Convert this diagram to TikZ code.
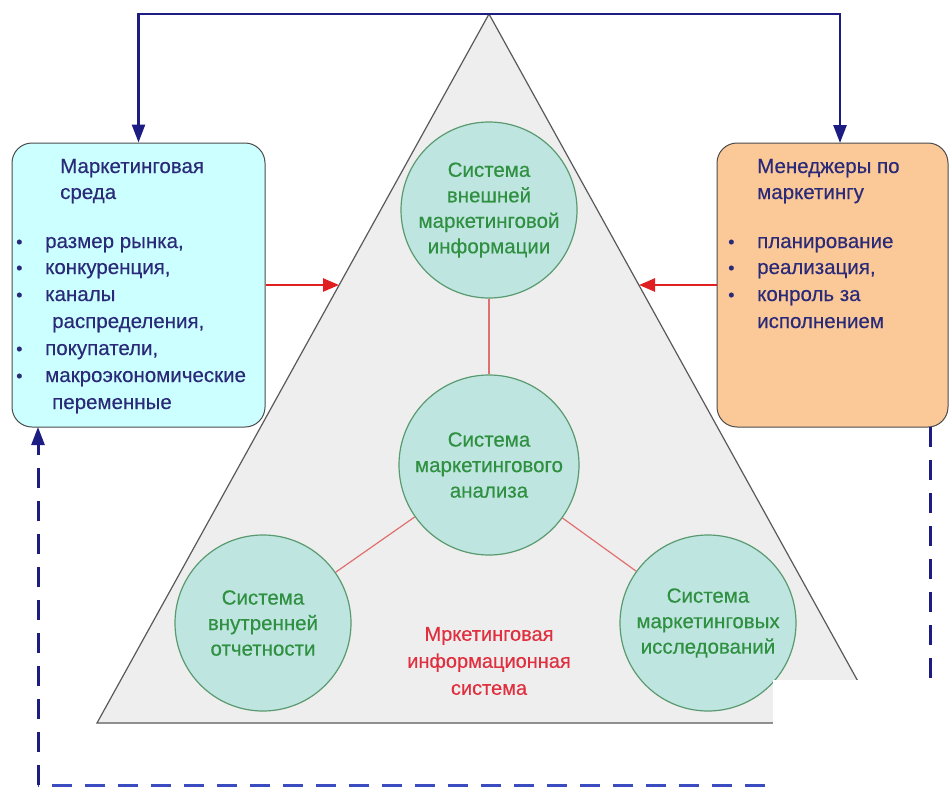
\documentclass[tikz,border=0pt]{standalone}
\usepackage{fontspec}
\setmainfont{Liberation Sans}[FakeBold=0.35]
\usetikzlibrary{arrows.meta}
\definecolor{navy}{HTML}{1C1C82}
\definecolor{dashblue}{HTML}{3A4CC0}
\definecolor{boxtext}{HTML}{2A2A78}
\definecolor{lboxfill}{HTML}{CCFFFF}
\definecolor{rboxfill}{HTML}{FBC898}
\definecolor{trifill}{HTML}{EEEEEE}
\definecolor{circfill}{HTML}{BFE5E0}
\definecolor{circline}{HTML}{5A9A70}
\definecolor{circtext}{HTML}{2E9040}
\definecolor{redline}{HTML}{E07070}
\definecolor{redarrow}{HTML}{E02020}
\definecolor{redtext}{HTML}{E03040}
\begin{document}
\begin{tikzpicture}[x=1pt,y=-1pt,
  boxst/.style={draw=black!70, line width=1pt, rounded corners=20pt, minimum width=253pt, minimum height=284pt, inner sep=0pt},
  boxtxt/.style={anchor=base west, inner sep=0pt, text=boxtext, font=\fontsize{20.5}{22}\selectfont},
  bullet/.style={anchor=base west, inner sep=0pt, text=boxtext, font=\fontsize{18}{20}\selectfont},
  circ/.style={circle, draw=circline, line width=1.2pt, fill=circfill, minimum size=176pt, inner sep=0pt, align=center, text=circtext, font=\fontsize{20.5}{25.5}\selectfont},
  navyline/.style={draw=navy, line width=2.6pt},
  navyarr/.style={navyline, -{Triangle[length=18pt,width=13pt]}},
  redarr/.style={draw=redarrow, line width=2.6pt, -{Triangle[length=16pt,width=13pt]}},
  dashline/.style={line width=3pt, dash pattern=on 20pt off 13pt},
  conn/.style={draw=redline, line width=1.2pt}
]
\useasboundingbox (0,0) rectangle (952,787);
\fill[white] (0,0) rectangle (952,787);

% triangle
\draw[fill=trifill, draw=black!65, line width=1.2pt] (489,14) -- (97,723) -- (881,723) -- cycle;

% boxes
\node[boxst, fill=lboxfill] (lbox) at (138.5,285) {};
\node[boxst, fill=rboxfill, minimum width=231pt] (rbox) at (832.5,285) {};

% left box text
\node[boxtxt] (lt1) at (60,173) {Маркетинговая};
\node[boxtxt] (lt2) at (60,199) {среда};
\foreach \y/\t/\n in {248/{размер рынка,}/a, 274/{конкуренция,}/b, 301/{каналы}/c, 355/{покупатели,}/d, 382/{макроэкономические}/e}{
  \node[bullet] (lb\n) at (16,\y) {•};
  \node[boxtxt] (lx\n) at (45,\y) {\t};
}
\node[boxtxt] (lx2) at (52,328) {распределения,};
\node[boxtxt] (lx3) at (52,409) {переменные};

% right box text
\node[boxtxt] (rt1) at (757,173) {Менеджеры по};
\node[boxtxt] (rt2) at (757,199) {маркетингу};
\foreach \y/\t/\n in {248/{планирование}/a, 274/{реализация,}/b, 301/{конроль за}/c}{
  \node[bullet] (rb\n) at (728,\y) {•};
  \node[boxtxt] (rx\n) at (757,\y) {\t};
}
\node[boxtxt] (rx2) at (757,328) {исполнением};

% circles
\node[circ] (c1) at (489,210) {Система\\внешней\\маркетинговой\\информации};
\node[circ, minimum size=180pt] (c2) at (489,465) {Система\\маркетингового\\анализа};
\node[circ] (c3) at (263,623) {Система\\внутренней\\отчетности};
\node[circ] (c4) at (708,623) {Система\\маркетинговых\\исследований};
\draw[conn] (c1) -- (c2);
\draw[conn] (c2) -- (c3);
\draw[conn] (c2) -- (c4);

\node[align=center, text=redtext, font=\fontsize{20}{27}\selectfont] (mis) at (489,661) {Мркетинговая\\информационная\\система};

% red arrows
\coordinate (tl) at (339,285);
\coordinate (tr) at (639,285);
\draw[redarr] (lbox.east) -- (tl);
\draw[redarr] (rbox.west) -- (tr);

% top navy connector
\coordinate (topL) at (138.5,14);
\coordinate (topR) at (840,14);
\coordinate (rtop) at (840,143);
\draw[navyline, line cap=rect] (topL) -- (topR);
\draw[navyarr] (topL) -- (lbox.north);
\draw[navyarr] (topR) -- (rtop);

% dashed feedback
\coordinate (rbot) at (930,427);
\coordinate (cr) at (930,785);
\coordinate (cl) at (38,785);
\coordinate (lbot) at (38,427);
\draw[dashline, draw=navy] (rbot) -- (cr);
\draw[dashline, draw=dashblue] (cr) -- (cl);
\draw[dashline, draw=navy] (cl) -- (38,445);
\draw[navyarr] (38,447) -- (lbot);

% white patch
\fill[white] (773,680) rectangle (952,787);
\end{tikzpicture}
\end{document}
